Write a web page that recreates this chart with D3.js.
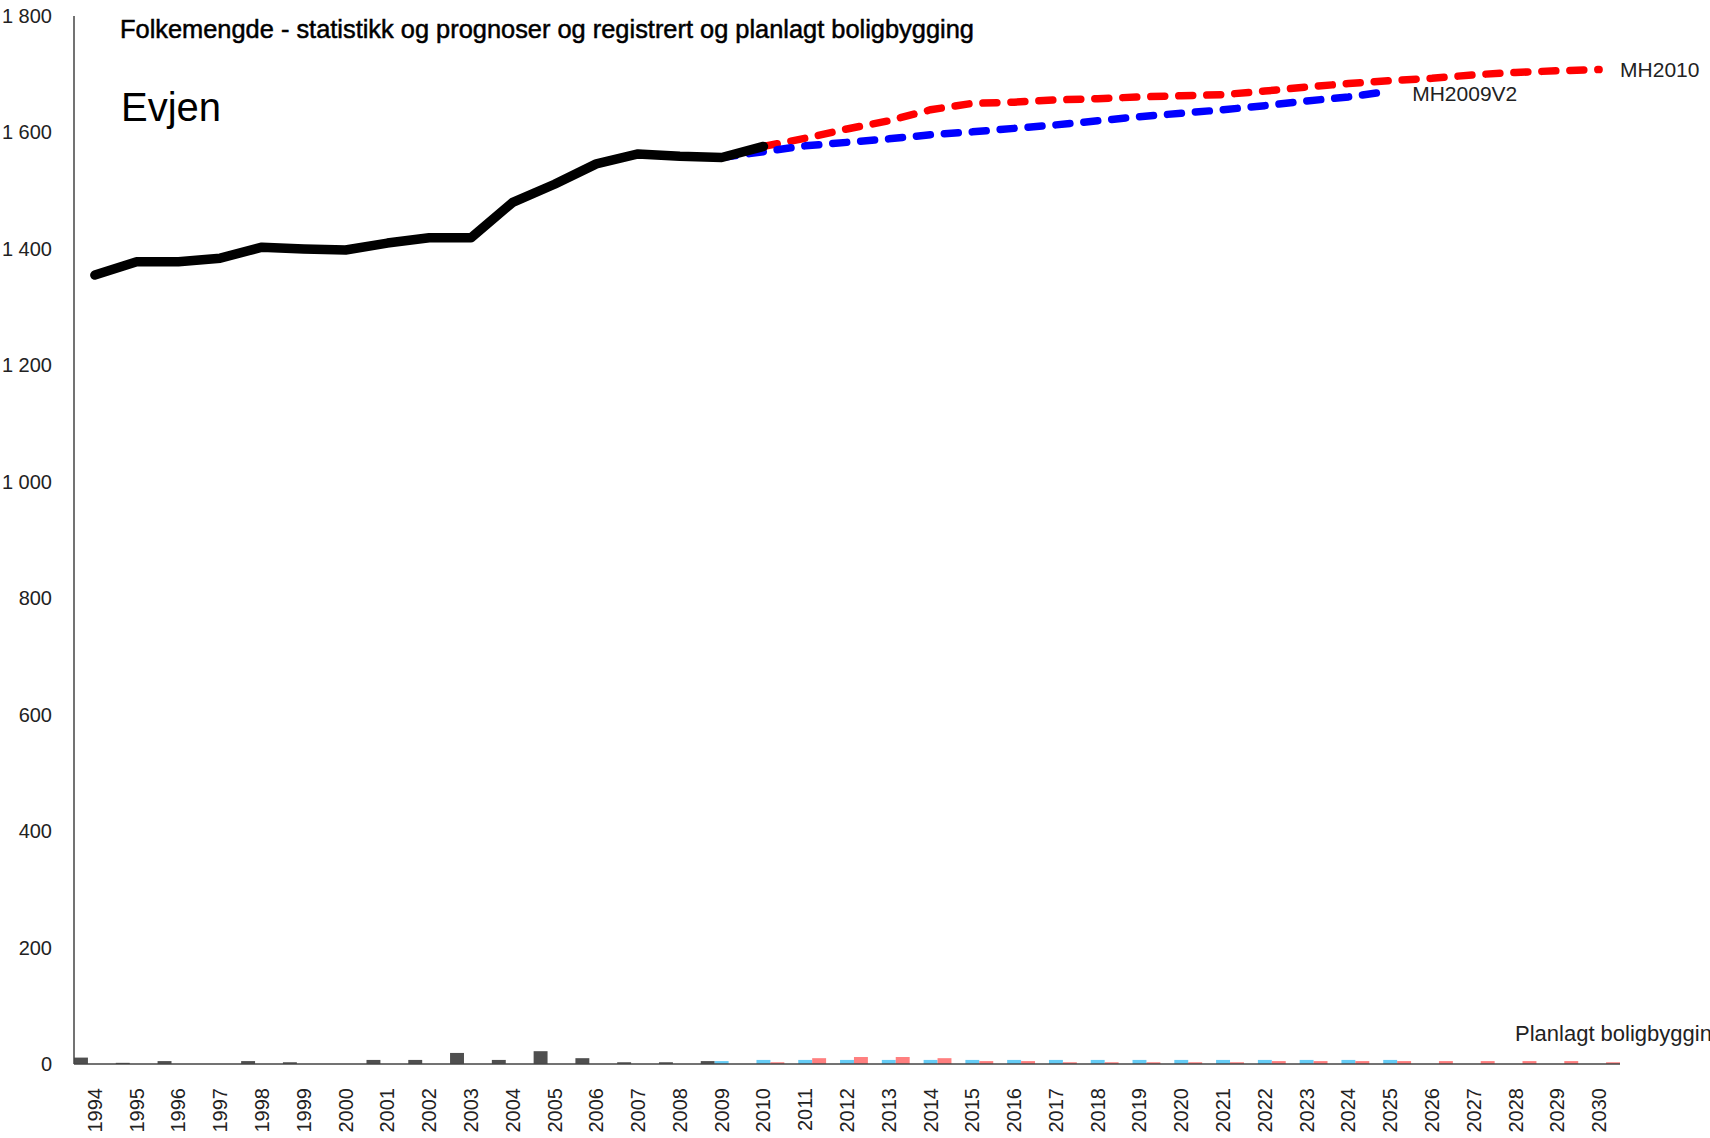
<!DOCTYPE html>
<html lang="no">
<head>
<meta charset="UTF-8">
<title>Folkemengde - Evjen</title>
<script src="https://d3js.org/d3.v7.min.js"></script>
<style>
  body { margin: 0; background: #fff; }
  svg { display: block; font-family: "Liberation Sans", Arial, sans-serif; }
</style>
</head>
<body>
<svg id="chart" width="1710" height="1138"></svg>
<script>
// years on the x axis
var years = d3.range(1994, 2031).map(String);

// population, statistics 1994-2010
var statYears = d3.range(1994, 2011).map(String);
var statValues = [1355, 1378, 1378, 1384, 1403, 1400, 1398, 1410, 1419, 1419, 1480, 1511, 1546, 1563, 1559, 1557, 1576];

// projection MH2009V2, 2009-2025
var mh09Years = d3.range(2009, 2026).map(String);
var mh09Values = [1557, 1567, 1577, 1583, 1589, 1596, 1601, 1607, 1613, 1620, 1627, 1633, 1639, 1646, 1654, 1661, 1671];

// projection MH2010, 2010-2030
var mh10Years = d3.range(2010, 2031).map(String);
var mh10Values = [1576, 1590, 1606, 1620, 1639, 1650, 1652, 1656, 1658, 1661, 1663, 1665, 1671, 1678, 1684, 1689, 1693, 1699, 1703, 1706, 1708];

// house building: registered 1994-2009, planned MH2009V2 2009-2025, planned MH2010 2010-2030
var regYears = d3.range(1994, 2010).map(String);
var regBuild = [11, 2, 5, 0, 5, 3, 0, 7, 7, 19, 7, 22, 10, 3, 3, 5];
var plan09Build = [5, 7, 7, 7, 7, 7, 7, 7, 7, 7, 7, 7, 7, 7, 7, 7, 7];
var plan10Build = [3, 10, 12, 12, 10, 5, 5, 3, 3, 3, 3, 3, 5, 5, 5, 5, 5, 5, 5, 5, 3];

var yTicks = [0, 200, 400, 600, 800, 1000, 1200, 1400, 1600, 1800];

var svg = d3.select("#chart");

var x = d3.scaleBand().domain(years).range([74, 1620]).padding(0);
var sub = d3.scaleBand().domain(["reg", "p09", "p10"]).range([0, x.bandwidth()]).padding(0);
var y = d3.scaleLinear().domain([0, 1800]).range([1064, 16]);

var fmt = d3.formatLocale({decimal: ",", thousands: " ", grouping: [3], currency: ["", ""]}).format(",");

// bars
var barSets = [
  {key: "reg", yrs: regYears, vals: regBuild, color: "#4f4f4f"},
  {key: "p09", yrs: mh09Years, vals: plan09Build, color: "#66ccf5"},
  {key: "p10", yrs: mh10Years, vals: plan10Build, color: "#ff7f7f"}
];
barSets.forEach(function(s) {
  svg.append("g").selectAll("rect")
    .data(s.yrs.map(function(d, i) { return {yr: d, v: s.vals[i]}; }))
    .enter().append("rect")
      .attr("x", function(d) { return x(d.yr) + sub(s.key); })
      .attr("width", sub.bandwidth())
      .attr("y", function(d) { return y(d.v); })
      .attr("height", function(d) { return y(0) - y(d.v); })
      .attr("fill", s.color);
});

// axes
svg.append("line")
  .attr("x1", x.range()[0]).attr("x2", x.range()[0])
  .attr("y1", y(1800)).attr("y2", y(0))
  .attr("stroke", "#444").attr("stroke-width", 1.5);
svg.append("line")
  .attr("x1", x.range()[0]).attr("x2", x.range()[1])
  .attr("y1", y(0)).attr("y2", y(0))
  .attr("stroke", "#444").attr("stroke-width", 1.5);

svg.append("g").selectAll("text")
  .data(yTicks)
  .enter().append("text")
    .attr("x", 52)
    .attr("y", function(d) { return y(d); })
    .attr("dy", "0.35em")
    .attr("text-anchor", "end")
    .attr("fill", "#222")
    .style("font-size", "20px")
    .text(function(d) { return fmt(d); });

svg.append("g").selectAll("text")
  .data(years)
  .enter().append("text")
    .attr("transform", function(d) { return "translate(" + (x(d) + x.bandwidth() / 2) + ",1088) rotate(-90)"; })
    .attr("dy", "0.35em")
    .attr("text-anchor", "end")
    .attr("fill", "#222")
    .style("font-size", "20px")
    .text(function(d) { return d; });

// lines
var line = d3.line()
  .x(function(d) { return x(d[0]) + x.bandwidth() / 2; })
  .y(function(d) { return y(d[1]); });

function pairs(yrs, vals) { return yrs.map(function(d, i) { return [d, vals[i]]; }); }

svg.append("path")
  .attr("d", line(pairs(mh10Years, mh10Values)))
  .attr("fill", "none").attr("stroke", "#ff0000").attr("stroke-width", 7.5)
  .attr("stroke-dasharray", "14,14").attr("stroke-linecap", "round");
svg.append("path")
  .attr("d", line(pairs(mh09Years, mh09Values)))
  .attr("fill", "none").attr("stroke", "#0000ff").attr("stroke-width", 7.5)
  .attr("stroke-dasharray", "14,14").attr("stroke-linecap", "round");
svg.append("path")
  .attr("d", line(pairs(statYears, statValues)))
  .attr("fill", "none").attr("stroke", "#000").attr("stroke-width", 9.5)
  .attr("stroke-linecap", "round").attr("stroke-linejoin", "round");

// series labels
svg.append("text")
  .attr("x", x("2030") + x.bandwidth() / 2 + 21)
  .attr("y", y(mh10Values[mh10Values.length - 1]))
  .attr("dy", "0.35em")
  .attr("fill", "#222").style("font-size", "21px")
  .text("MH2010");
svg.append("text")
  .attr("x", x("2025") + x.bandwidth() / 2 + 22)
  .attr("y", y(mh09Values[mh09Values.length - 1]) + 3)
  .attr("dy", "0.35em")
  .attr("fill", "#222").style("font-size", "21px")
  .text("MH2009V2");
svg.append("text")
  .attr("x", 1515)
  .attr("y", y(0) - 31)
  .attr("dy", "0.35em")
  .attr("fill", "#222").style("font-size", "22px")
  .text("Planlagt boligbygging");

// titles
svg.append("text")
  .attr("x", 120).attr("y", 38)
  .attr("fill", "#000").attr("stroke", "#000").attr("stroke-width", 0.5)
  .style("font-size", "25.4px")
  .text("Folkemengde - statistikk og prognoser og registrert og planlagt boligbygging");
svg.append("text")
  .attr("x", 121).attr("y", 121)
  .attr("fill", "#000")
  .style("font-size", "40px")
  .text("Evjen");
</script>
</body>
</html>
